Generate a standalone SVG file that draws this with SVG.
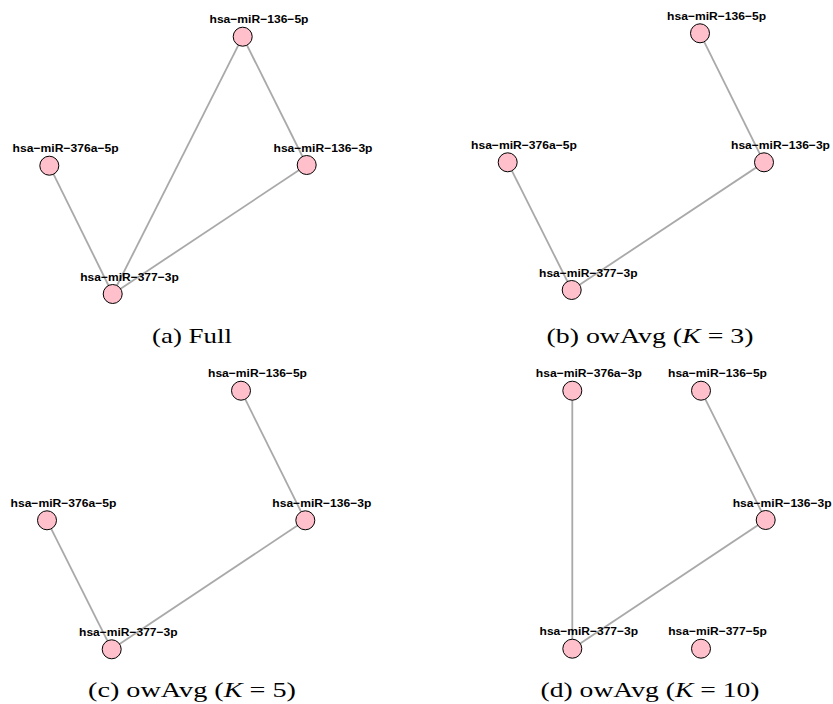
<svg xmlns="http://www.w3.org/2000/svg" width="833" height="704" viewBox="0 0 833 704">
<style>
.e{stroke:#a9a9a9;stroke-width:1.8;fill:none}
.n circle{fill:#ffc0cb;stroke:#000;stroke-width:1}
.n text{font-family:"Liberation Sans",Arial,sans-serif;font-weight:bold;font-size:11.5px;text-anchor:middle;fill:#000}
.cap{font-family:"Liberation Serif","Times New Roman",serif;font-size:22px;text-anchor:middle;fill:#000}
</style>
<rect width="833" height="704" fill="#fff"/>
<g id="connectors">
<line class="e" x1="242.7" y1="36.7" x2="306.7" y2="165"/>
<line class="e" x1="242.7" y1="36.7" x2="112.7" y2="294"/>
<line class="e" x1="49.3" y1="165.7" x2="112.7" y2="294"/>
<line class="e" x1="306.7" y1="165" x2="112.7" y2="294"/>
<line class="e" x1="700" y1="33.3" x2="764" y2="162.3"/>
<line class="e" x1="507.7" y1="162.3" x2="571.7" y2="290"/>
<line class="e" x1="764" y1="162.3" x2="571.7" y2="290"/>
<line class="e" x1="241" y1="390.7" x2="305.3" y2="520.3"/>
<line class="e" x1="47" y1="520.3" x2="111.7" y2="649.3"/>
<line class="e" x1="305.3" y1="520.3" x2="111.7" y2="649.3"/>
<line class="e" x1="572.3" y1="390.7" x2="572.3" y2="648.7"/>
<line class="e" x1="701" y1="390.7" x2="765.7" y2="520"/>
<line class="e" x1="765.7" y1="520" x2="572.3" y2="648.7"/>
</g>
<g id="a-136-5p" class="n"><circle cx="242.7" cy="36.7" r="9.5"/><text x="259" y="23" textLength="99" lengthAdjust="spacingAndGlyphs">hsa−miR−136−5p</text></g>
<g id="a-376a-5p" class="n"><circle cx="49.3" cy="165.7" r="9.5"/><text x="65.6" y="152" textLength="106" lengthAdjust="spacingAndGlyphs">hsa−miR−376a−5p</text></g>
<g id="a-136-3p" class="n"><circle cx="306.7" cy="165" r="9.5"/><text x="323" y="152" textLength="99" lengthAdjust="spacingAndGlyphs">hsa−miR−136−3p</text></g>
<g id="a-377-3p" class="n"><circle cx="112.7" cy="294" r="9.5"/><text x="129.5" y="280.5" textLength="98.5" lengthAdjust="spacingAndGlyphs">hsa−miR−377−3p</text></g>
<g id="b-136-5p" class="n"><circle cx="700" cy="33.3" r="9.5"/><text x="716.6" y="19.8" textLength="99" lengthAdjust="spacingAndGlyphs">hsa−miR−136−5p</text></g>
<g id="b-376a-5p" class="n"><circle cx="507.7" cy="162.3" r="9.5"/><text x="524" y="148.8" textLength="106" lengthAdjust="spacingAndGlyphs">hsa−miR−376a−5p</text></g>
<g id="b-136-3p" class="n"><circle cx="764" cy="162.3" r="9.5"/><text x="780.5" y="148.8" textLength="99" lengthAdjust="spacingAndGlyphs">hsa−miR−136−3p</text></g>
<g id="b-377-3p" class="n"><circle cx="571.7" cy="290" r="9.5"/><text x="588.3" y="276.5" textLength="98.5" lengthAdjust="spacingAndGlyphs">hsa−miR−377−3p</text></g>
<g id="c-136-5p" class="n"><circle cx="241" cy="390.7" r="9.5"/><text x="257.5" y="377.2" textLength="99" lengthAdjust="spacingAndGlyphs">hsa−miR−136−5p</text></g>
<g id="c-376a-5p" class="n"><circle cx="47" cy="520.3" r="9.5"/><text x="63.5" y="506.8" textLength="106" lengthAdjust="spacingAndGlyphs">hsa−miR−376a−5p</text></g>
<g id="c-136-3p" class="n"><circle cx="305.3" cy="520.3" r="9.5"/><text x="321.8" y="506.8" textLength="99" lengthAdjust="spacingAndGlyphs">hsa−miR−136−3p</text></g>
<g id="c-377-3p" class="n"><circle cx="111.7" cy="649.3" r="9.5"/><text x="128.3" y="635.8" textLength="98.5" lengthAdjust="spacingAndGlyphs">hsa−miR−377−3p</text></g>
<g id="d-376a-3p" class="n"><circle cx="572.3" cy="390.7" r="9.5"/><text x="588.8" y="377.2" textLength="106" lengthAdjust="spacingAndGlyphs">hsa−miR−376a−3p</text></g>
<g id="d-136-5p" class="n"><circle cx="701" cy="390.7" r="9.5"/><text x="717.5" y="377.2" textLength="99" lengthAdjust="spacingAndGlyphs">hsa−miR−136−5p</text></g>
<g id="d-136-3p" class="n"><circle cx="765.7" cy="520" r="9.5"/><text x="782.2" y="506.5" textLength="99" lengthAdjust="spacingAndGlyphs">hsa−miR−136−3p</text></g>
<g id="d-377-3p" class="n"><circle cx="572.3" cy="648.7" r="9.5"/><text x="588.8" y="635.2" textLength="98.5" lengthAdjust="spacingAndGlyphs">hsa−miR−377−3p</text></g>
<g id="d-377-5p" class="n"><circle cx="701" cy="648.7" r="9.5"/><text x="717.5" y="635.2" textLength="98.5" lengthAdjust="spacingAndGlyphs">hsa−miR−377−5p</text></g>
<g id="captions">
<text class="cap" x="192" y="343" textLength="80" lengthAdjust="spacingAndGlyphs">(a) Full</text>
<text class="cap" x="650" y="343" textLength="207" lengthAdjust="spacingAndGlyphs">(b) owAvg (<tspan font-style="italic">K</tspan> = 3)</text>
<text class="cap" x="192" y="697" textLength="208" lengthAdjust="spacingAndGlyphs">(c) owAvg (<tspan font-style="italic">K</tspan> = 5)</text>
<text class="cap" x="650" y="697" textLength="219" lengthAdjust="spacingAndGlyphs">(d) owAvg (<tspan font-style="italic">K</tspan> = 10)</text>
</g>
</svg>
